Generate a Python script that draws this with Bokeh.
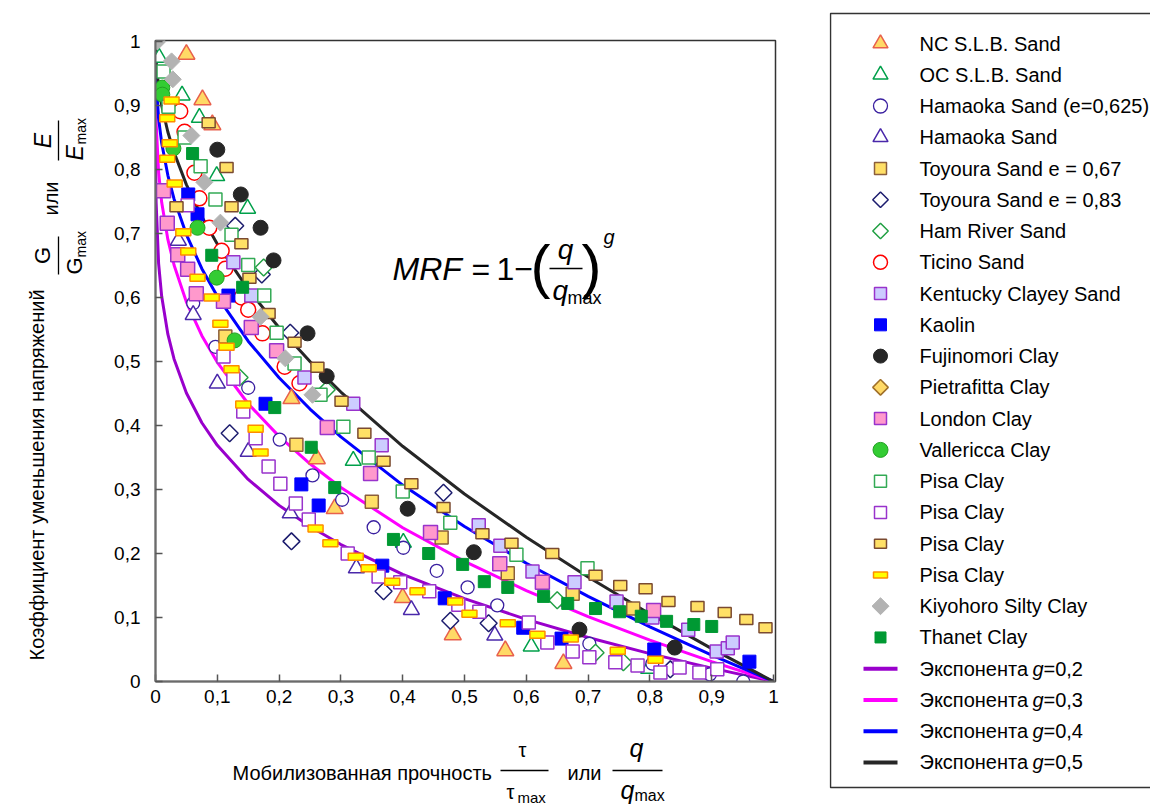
import math
from bokeh.plotting import figure
from bokeh.models import Range1d, Label, FixedTicker
from bokeh.layouts import row, column
from bokeh.embed import file_html
from bokeh.resources import INLINE
from bokeh.core.properties import value

FONT = "Liberation Sans"

# ---------------- data ----------------
tick_vals = [0, 0.1, 0.2, 0.3, 0.4, 0.5, 0.6, 0.7, 0.8, 0.9, 1.0]
tick_text = ["0", "0,1", "0,2", "0,3", "0,4", "0,5", "0,6", "0,7", "0,8", "0,9", "1"]

curve_x = [0, 0.0001, 0.001, 0.005, 0.01, 0.02, 0.03, 0.05, 0.075, 0.1, 0.15, 0.2, 0.25,
           0.3, 0.4, 0.5, 0.6, 0.7, 0.8, 0.9, 1.0]
curve_g02 = [1, 0.8415, 0.7488, 0.6534, 0.6019, 0.5427, 0.5041, 0.4507, 0.4043, 0.3690, 0.3157,
             0.2752, 0.2421, 0.2140, 0.1675, 0.1294, 0.0971, 0.0688, 0.0436, 0.0209, 0]
curve_g03 = [1, 0.9369, 0.8741, 0.7960, 0.7488, 0.6907, 0.6508, 0.5929, 0.5403, 0.4988, 0.4340,
             0.3830, 0.3402, 0.3032, 0.2403, 0.1877, 0.1421, 0.1015, 0.0647, 0.0311, 0]
curve_g04 = [1, 0.9749, 0.9369, 0.8799, 0.8415, 0.7909, 0.7540, 0.6983, 0.6451, 0.6019, 0.5318,
             0.4747, 0.4257, 0.3822, 0.3069, 0.2421, 0.1848, 0.1330, 0.0854, 0.0413, 0]
curve_g05 = [1, 0.99, 0.9684, 0.9293, 0.9, 0.8586, 0.8268, 0.7764, 0.7261, 0.6838, 0.6127,
             0.5528, 0.5, 0.4523, 0.3675, 0.2929, 0.2254, 0.1633, 0.1056, 0.0513, 0]
curve_names = ["0,2", "0,3", "0,4", "0,5"]

nc_x = [0.050, 0.076, 0.092, 0.220, 0.261, 0.290, 0.400, 0.481, 0.566, 0.660]
nc_y = [0.980, 0.909, 0.870, 0.442, 0.348, 0.270, 0.131, 0.073, 0.048, 0.028]

oc_x = [0.006, 0.043, 0.071, 0.099, 0.149, 0.320, 0.401, 0.608, 0.798]
oc_y = [0.975, 0.916, 0.881, 0.790, 0.739, 0.345, 0.217, 0.055, 0.020]

ham625_x = [0.061, 0.097, 0.150, 0.201, 0.254, 0.302, 0.353, 0.401, 0.455, 0.505, 0.553, 0.702, 0.804, 0.897, 0.951]
ham625_y = [0.591, 0.523, 0.459, 0.378, 0.322, 0.284, 0.241, 0.209, 0.173, 0.147, 0.119, 0.059, 0.028, 0.011, 0.000]

hamaoka_x = [0.037, 0.061, 0.100, 0.150, 0.218, 0.325, 0.414, 0.549]
hamaoka_y = [0.689, 0.573, 0.466, 0.359, 0.263, 0.177, 0.112, 0.072]

toy67_x = [0.113, 0.228, 0.350, 0.463, 0.570, 0.675, 0.773]
toy67_y = [0.539, 0.370, 0.281, 0.225, 0.169, 0.137, 0.114]

toy83_x = [0.129, 0.172, 0.218, 0.120, 0.220, 0.466, 0.369, 0.477, 0.539, 0.833]
toy83_y = [0.712, 0.636, 0.545, 0.388, 0.219, 0.295, 0.141, 0.095, 0.091, 0.019]

hamriver_x = [0.175, 0.136, 0.277, 0.650, 0.712, 0.757]
hamriver_y = [0.647, 0.475, 0.456, 0.127, 0.045, 0.030]

ticino_x = [0.040, 0.047, 0.063, 0.071, 0.087, 0.107, 0.113, 0.139, 0.150, 0.173, 0.209, 0.233]
ticino_y = [0.891, 0.859, 0.795, 0.755, 0.709, 0.673, 0.645, 0.600, 0.581, 0.544, 0.492, 0.466]

kentucky_x = [0.126, 0.155, 0.241, 0.320, 0.366, 0.523, 0.558, 0.610, 0.678, 0.746, 0.804, 0.862, 0.908, 0.926, 0.934]
kentucky_y = [0.655, 0.603, 0.475, 0.434, 0.369, 0.244, 0.212, 0.172, 0.155, 0.125, 0.100, 0.081, 0.047, 0.052, 0.061]

kaolin_x = [0.053, 0.068, 0.118, 0.178, 0.236, 0.264, 0.367, 0.468, 0.595, 0.657, 0.807, 0.961]
kaolin_y = [0.761, 0.730, 0.603, 0.434, 0.308, 0.275, 0.181, 0.130, 0.084, 0.067, 0.050, 0.031]

fuji_x = [0.100, 0.138, 0.170, 0.191, 0.246, 0.277, 0.408, 0.515, 0.686, 0.840]
fuji_y = [0.831, 0.761, 0.709, 0.658, 0.544, 0.477, 0.270, 0.202, 0.081, 0.053]

pietra_x = []
pietra_y = []

london_x = [0.013, 0.019, 0.036, 0.052, 0.066, 0.110, 0.155, 0.196, 0.278, 0.348, 0.445, 0.557, 0.626, 0.806]
london_y = [0.767, 0.716, 0.667, 0.644, 0.606, 0.594, 0.553, 0.517, 0.397, 0.325, 0.233, 0.184, 0.155, 0.111]

valle_x = [0.011, 0.011, 0.029, 0.068, 0.099, 0.128]
valle_y = [0.928, 0.917, 0.833, 0.709, 0.631, 0.533]

pisa1_x = [0.013, 0.021, 0.047, 0.073, 0.097, 0.123, 0.150, 0.176, 0.196, 0.225, 0.267, 0.304, 0.345, 0.400, 0.477, 0.584, 0.699]
pisa1_y = [0.953, 0.898, 0.850, 0.805, 0.753, 0.698, 0.651, 0.603, 0.545, 0.497, 0.448, 0.398, 0.350, 0.297, 0.248, 0.198, 0.177]

pisa2_x = [0.052, 0.110, 0.126, 0.142, 0.162, 0.183, 0.202, 0.227, 0.248, 0.311, 0.361, 0.396, 0.443, 0.490, 0.524,
           0.604, 0.634, 0.675, 0.702, 0.744, 0.780, 0.817, 0.848, 0.880, 0.909]
pisa2_y = [0.744, 0.508, 0.473, 0.422, 0.380, 0.336, 0.309, 0.278, 0.253, 0.200, 0.164, 0.155, 0.141, 0.120, 0.109,
           0.092, 0.061, 0.047, 0.038, 0.030, 0.025, 0.014, 0.022, 0.014, 0.019]

pisa3_x = [0.034, 0.086, 0.115, 0.123, 0.139, 0.152, 0.183, 0.225, 0.262, 0.301, 0.338, 0.369, 0.414, 0.466, 0.529,
           0.576, 0.642, 0.712, 0.752, 0.793, 0.830, 0.877, 0.921, 0.956, 0.987]
pisa3_y = [0.742, 0.873, 0.803, 0.742, 0.684, 0.630, 0.575, 0.530, 0.491, 0.438, 0.388, 0.344, 0.309, 0.272, 0.231,
           0.216, 0.200, 0.166, 0.150, 0.145, 0.125, 0.117, 0.108, 0.097, 0.084]

pisa4_x = [0.026, 0.019, 0.023, 0.019, 0.031, 0.045, 0.053, 0.068, 0.091, 0.105, 0.115, 0.123, 0.142, 0.162, 0.170,
           0.259, 0.283, 0.324, 0.345, 0.383, 0.424, 0.485, 0.508, 0.570, 0.618, 0.672, 0.748, 0.809]
pisa4_y = [0.908, 0.880, 0.841, 0.817, 0.778, 0.702, 0.672, 0.631, 0.600, 0.559, 0.523, 0.488, 0.433, 0.395, 0.358,
           0.239, 0.216, 0.195, 0.177, 0.156, 0.141, 0.125, 0.106, 0.091, 0.073, 0.067, 0.048, 0.034]

kiyo_x = [0.003, 0.026, 0.028, 0.058, 0.079, 0.105, 0.170, 0.210, 0.254]
kiyo_y = [1.000, 0.969, 0.941, 0.853, 0.780, 0.717, 0.570, 0.505, 0.448]

thanet_x = [0.060, 0.091, 0.141, 0.193, 0.252, 0.290, 0.385, 0.442, 0.497, 0.532, 0.570, 0.628, 0.667, 0.712,
            0.751, 0.786, 0.827, 0.871, 0.900]
thanet_y = [0.825, 0.666, 0.616, 0.428, 0.366, 0.303, 0.222, 0.200, 0.183, 0.156, 0.147, 0.133, 0.122, 0.114,
            0.109, 0.102, 0.094, 0.089, 0.086]

series_names = ["NC S.L.B. Sand", "OC S.L.B. Sand", "Hamaoka Sand (e=0,625)", "Hamaoka Sand",
                "Toyoura Sand e = 0,67", "Toyoura Sand e = 0,83", "Ham River Sand", "Ticino Sand",
                "Kentucky Clayey Sand", "Kaolin", "Fujinomori Clay", "Pietrafitta Clay", "London Clay",
                "Vallericca Clay", "Pisa Clay", "Pisa Clay", "Pisa Clay", "Pisa Clay",
                "Kiyohoro Silty Clay", "Thanet Clay"]
series_data = [(nc_x, nc_y), (oc_x, oc_y), (ham625_x, ham625_y), (hamaoka_x, hamaoka_y),
               (toy67_x, toy67_y), (toy83_x, toy83_y), (hamriver_x, hamriver_y), (ticino_x, ticino_y),
               (kentucky_x, kentucky_y), (kaolin_x, kaolin_y), (fuji_x, fuji_y), (pietra_x, pietra_y),
               (london_x, london_y), (valle_x, valle_y), (pisa1_x, pisa1_y), (pisa2_x, pisa2_y),
               (pisa3_x, pisa3_y), (pisa4_x, pisa4_y), (kiyo_x, kiyo_y), (thanet_x, thanet_y)]

# ---------------- styles ----------------
# (marker, size, fill, line, line_width, legend_size)
#   "rhomb" -> square turned by 45 degrees; "rect:w:h" -> screen-size rectangle
styles = [
    ("triangle", 17, "#FFD966", "#E8604C", 1.5, 15),
    ("triangle", 16, "white", "#00A04A", 1.5, 15),
    ("circle", 13, "white", "#3A20A0", 1.3, 14),
    ("triangle", 16, "white", "#4A28AA", 1.5, 15),
    ("square", 13, "#FFDF66", "#8B5E3C", 1.5, 12),
    ("rhomb", 12, "white", "#1C1C6E", 1.5, 11),
    ("rhomb", 12, "white", "#22A044", 1.5, 11),
    ("circle", 15, "white", "#FF0000", 1.5, 14),
    ("square", 13, "#CCCCFF", "#9933CC", 1.5, 12),
    ("square", 13, "#0000FF", "#0000FF", 1.0, 12),
    ("circle", 15, "#262626", "#262626", 1.0, 14),
    ("rhomb", 12, "#FFD966", "#A0702A", 1.5, 11),
    ("square", 14, "#FF99CC", "#9933CC", 1.5, 12),
    ("circle", 15, "#33CC33", "#22A022", 1.0, 15),
    ("square", 13, "white", "#33AA55", 1.5, 12),
    ("square", 13, "white", "#9933CC", 1.5, 12),
    ("rect:13:10", 0, "#FFE066", "#7A4A30", 1.5, 0),
    ("rect:15:7", 0, "#FFFF00", "#FF8C00", 1.5, 0),
    ("rhomb", 12, "#B3B3B3", "#B3B3B3", 1.0, 12),
    ("square", 12, "#009933", "#009933", 1.0, 11),
]
curve_colors = ["#9900CC", "#FF00FF", "#0000FF", "#262626"]


def blank_fig(w, h, y0, y1):
    f = figure(width=w, height=h, x_range=Range1d(0, w), y_range=Range1d(y0, y1),
               output_backend="svg", toolbar_location=None, min_border=0,
               x_axis_type=None, y_axis_type=None, frame_align=False)
    f.grid.visible = False
    f.outline_line_color = None
    f.background_fill_color = "white"
    f.border_fill_color = "white"
    return f


def put_text(fig, x, y, text, size, style="normal", align="left", base="middle", angle=0.0):
    fig.text([x], [y], text=[text], text_font=value(FONT), text_font_size=f"{size}px",
             text_font_style=style, text_align=align, text_baseline=base, angle=angle,
             text_color="black")


# ---------------- main plot ----------------
FL, FB = 155, 681  # frame left / bottom (canvas px) used for screen-unit annotations

p = figure(width=734, height=721, x_range=Range1d(0, 1.0032), y_range=Range1d(0, 1.0016),
           output_backend="svg", toolbar_location=None, frame_align=False,
           min_border_left=60, min_border_right=54, min_border_top=40, min_border_bottom=40)
p.grid.visible = False
p.outline_line_color = "#333333"
p.outline_line_width = 1.5
p.background_fill_color = "white"
p.border_fill_color = "white"

for ax in (p.xaxis[0], p.yaxis[0]):
    ax.ticker = FixedTicker(ticks=tick_vals)
    ax.major_label_overrides = {v: t for v, t in zip(tick_vals, tick_text)}
    ax.major_label_text_font = FONT
    ax.major_label_text_font_size = "19px"
    ax.major_label_text_color = "black"
    ax.axis_line_color = "#6b6b6b"
    ax.axis_line_width = 2
    ax.major_tick_in = 7
    ax.major_tick_out = 0
    ax.major_tick_line_color = "#555555"
    ax.major_tick_line_width = 1.5
    ax.minor_tick_line_color = None
p.yaxis.major_label_standoff = 15
p.xaxis.major_label_standoff = 8

for ys, col in zip([curve_g02, curve_g03, curve_g04, curve_g05], curve_colors):
    p.line(curve_x, ys, line_color=col, line_width=3)


def draw_series(fig, xs, ys, st, legend=False):
    marker, size, fill, line, lw, lsize = st
    sz = lsize if legend else size
    if marker.startswith("rect"):
        _, w, h = marker.split(":")
        w, h = float(w), float(h)
        if legend:
            w, h = w - 1, h - 1
        fig.rect(xs, ys, width=w, height=h, width_units="screen", height_units="screen",
                 fill_color=fill, line_color=line, line_width=lw)
    elif marker == "rhomb":
        fig.scatter(xs, ys, marker="square", angle=math.pi / 4, size=sz,
                    fill_color=fill, line_color=line, line_width=lw)
    else:
        fig.scatter(xs, ys, marker=marker, size=sz,
                    fill_color=fill, line_color=line, line_width=lw)


for (xs, ys), st in zip(series_data, styles):
    if xs:
        draw_series(p, xs, ys, st)


def lab(text, px, py, size, style="normal", align="left", base="middle"):
    p.add_layout(Label(x=px - FL, y=FB - py, x_units="screen", y_units="screen", text=text,
                       text_font=FONT, text_font_size=f"{size}px", text_font_style=style,
                       text_align=align, text_baseline=base, text_color="black"))


# formula (inside the plot frame)
lab("MRF", 392, 268, 32, style="italic")
lab("=", 471, 268, 32)
lab("1\u2212", 496, 268, 32)
lab("(", 530, 266, 60)
lab("q", 565, 249, 28, style="italic", align="center")
lab("q", 552, 290, 28, style="italic")
lab("max", 567, 297, 18)
lab(")", 581, 266, 60)
lab("g", 603, 236, 20, style="italic")
p.segment(x0=[(549 - FL) / 618], y0=[(FB - 268) / 640], x1=[(582 - FL) / 618], y1=[(FB - 268) / 640],
          line_color="black", line_width=1.3)

# ---------------- y title panel (canvas x 0..95, y 0..721) ----------------
yt = blank_fig(95, 721, 0, 721)
A = math.pi / 2
H = 721
put_text(yt, 36, H - 660, "Коэффициент уменьшения напряжений", 20, angle=A)
put_text(yt, 42, H - 255, "G", 22, align="center", angle=A)
yt.segment(x0=[58], y0=[H - 236], x1=[58], y1=[H - 274], line_color="black", line_width=1.3)
put_text(yt, 74, H - 274, "G", 22, angle=A)
put_text(yt, 80, H - 257, "max", 14, angle=A)
put_text(yt, 50, H - 215, "или", 20, angle=A)
put_text(yt, 42, H - 140, "E", 23, style="italic", align="center", angle=A)
yt.segment(x0=[58], y0=[H - 120], x1=[58], y1=[H - 160], line_color="black", line_width=1.3)
put_text(yt, 74, H - 160, "E", 23, style="italic", angle=A)
put_text(yt, 80, H - 144, "max", 14, angle=A)

# ---------------- x title panel (canvas x 0..829, y 721..805) ----------------
xt = blank_fig(829, 84, 0, 84)
B = 805
put_text(xt, 232, B - 772, "Мобилизованная прочность", 20)
put_text(xt, 522, B - 749, "\u03c4", 20, align="center")
xt.segment(x0=[500], y0=[B - 770], x1=[548], y1=[B - 770], line_color="black", line_width=1.3)
put_text(xt, 506, B - 791, "\u03c4", 20)
put_text(xt, 517, B - 797, "max", 15)
put_text(xt, 567, B - 772, "или", 20)
put_text(xt, 636, B - 747, "q", 25, style="italic", align="center")
xt.segment(x0=[612], y0=[B - 770], x1=[662], y1=[B - 770], line_color="black", line_width=1.3)
put_text(xt, 620, B - 789, "q", 25, style="italic")
put_text(xt, 634, B - 795, "max", 16)

# ---------------- legend panel (canvas x 829..1150) ----------------
lg = blank_fig(321, 805, 0, 805)
lg.line([322, 1, 1, 322], [B - 13, B - 13, B - 787, B - 787], line_color="#333333", line_width=1.5)

step = 31.26
item_y = [B - (43 + step * i) for i in range(len(series_names) + len(curve_names))]

for i, st in enumerate(styles):
    draw_series(lg, [51], [item_y[i]], st, legend=True)

n = len(series_names)
lg.text([90] * n, item_y[:n], text=series_names, text_font=value(FONT), text_font_size="20px",
        text_baseline="middle", text_color="black")

cy = item_y[n:]
for yy, col in zip(cy, curve_colors):
    lg.line([34, 68], [yy, yy], line_color=col, line_width=4)
lg.text([90] * 4, cy, text=["Экспонента"] * 4, text_font=value(FONT), text_font_size="20px",
        text_baseline="middle", text_color="black")
lg.text([203] * 4, cy, text=["g"] * 4, text_font=value(FONT), text_font_size="20px",
        text_font_style="italic", text_baseline="middle", text_color="black")
lg.text([214] * 4, cy, text=["=" + c for c in curve_names], text_font=value(FONT),
        text_font_size="20px", text_baseline="middle", text_color="black")

layout = row(column(row(yt, p), xt), lg)
open("out.html", "w").write(file_html(layout, INLINE))
